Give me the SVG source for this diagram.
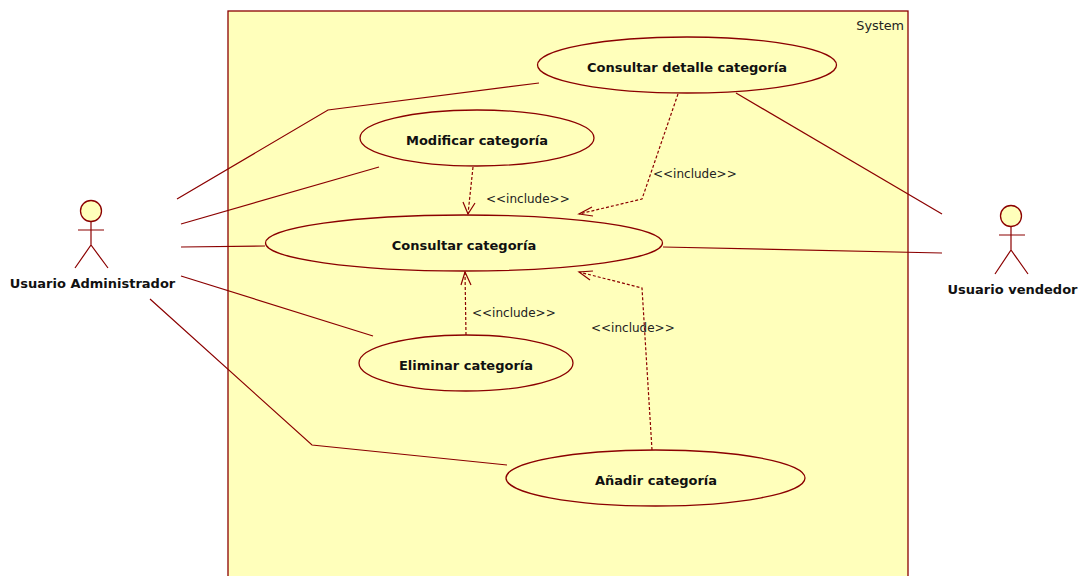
<svg xmlns="http://www.w3.org/2000/svg" width="1083" height="576" viewBox="0 0 1083 576">
<style>
.l{fill:none;stroke:#8b0000;stroke-width:1.2}
.d{fill:none;stroke:#8b0000;stroke-width:1.2;stroke-dasharray:3 2}
.s{fill:#ffffbb;stroke:#8b0000;stroke-width:1.3}
.b{font:bold 13px "DejaVu Sans",sans-serif;fill:#111;text-anchor:middle}
.t{font:12px "DejaVu Sans",sans-serif;fill:#222}
</style>
<rect width="1083" height="576" fill="#fff"/>
<g id="system"><rect class="s" x="228" y="11" width="680" height="575"/><text class="t" x="904" y="30" text-anchor="end" style="font-size:12.800px">System</text></g>
<g id="connectors">
<path class="l" d="M177 199L328 110L539 83"/>
<path class="l" d="M181 224L379 167"/>
<path class="l" d="M181 247L265 246"/>
<path class="l" d="M181 276L373 336"/>
<path class="l" d="M150 299L312 445L507 465"/>
<path class="l" d="M736 93L942 214"/>
<path class="l" d="M663 247L942 253"/>
<path class="d" d="M473 167L468 214"/>
<path class="l" d="M463 202L468 214L475 203"/>
<path class="d" d="M678 94L642 199L579 214"/>
<path class="l" d="M592 207L579 214L593 216"/>
<path class="d" d="M466 335L465 272"/>
<path class="l" d="M461 285L465 272L471 285"/>
<path class="d" d="M652 450L642 288L579 272"/>
<path class="l" d="M593 271L579 272L590 280"/>
</g>
<g id="uc-detalle"><ellipse class="s" cx="687" cy="65" rx="149.500" ry="28"/><text class="b" x="687" y="72">Consultar detalle categoría</text></g>
<g id="uc-modificar"><ellipse class="s" cx="477" cy="138" rx="117" ry="28"/><text class="b" x="477" y="145">Modificar categoría</text></g>
<g id="uc-consultar"><ellipse class="s" cx="464" cy="243" rx="198.500" ry="28"/><text class="b" x="464" y="250">Consultar categoría</text></g>
<g id="uc-eliminar"><ellipse class="s" cx="466" cy="363" rx="107" ry="28"/><text class="b" x="466" y="370">Eliminar categoría</text></g>
<g id="uc-anadir"><ellipse class="s" cx="655.500" cy="478" rx="149.500" ry="28"/><text class="b" x="656" y="485">Añadir categoría</text></g>
<g id="labels">
<text class="t" x="486" y="203">&lt;&lt;include&gt;&gt;</text>
<text class="t" x="653" y="178">&lt;&lt;include&gt;&gt;</text>
<text class="t" x="472" y="317">&lt;&lt;include&gt;&gt;</text>
<text class="t" x="591" y="332">&lt;&lt;include&gt;&gt;</text>
</g>
<g id="actor-admin"><circle class="s" cx="91" cy="211" r="10.500"/><path class="l" d="M91 221V245M78 230H104M75 268L91 245L108 268"/><text class="b" x="92.500" y="288">Usuario Administrador</text></g>
<g id="actor-vendedor"><circle class="s" cx="1011" cy="216" r="10.500"/><path class="l" d="M1011 226V250M999 235H1025M995 274L1011 250L1028 274"/><text class="b" x="1012.500" y="294">Usuario vendedor</text></g>
</svg>
